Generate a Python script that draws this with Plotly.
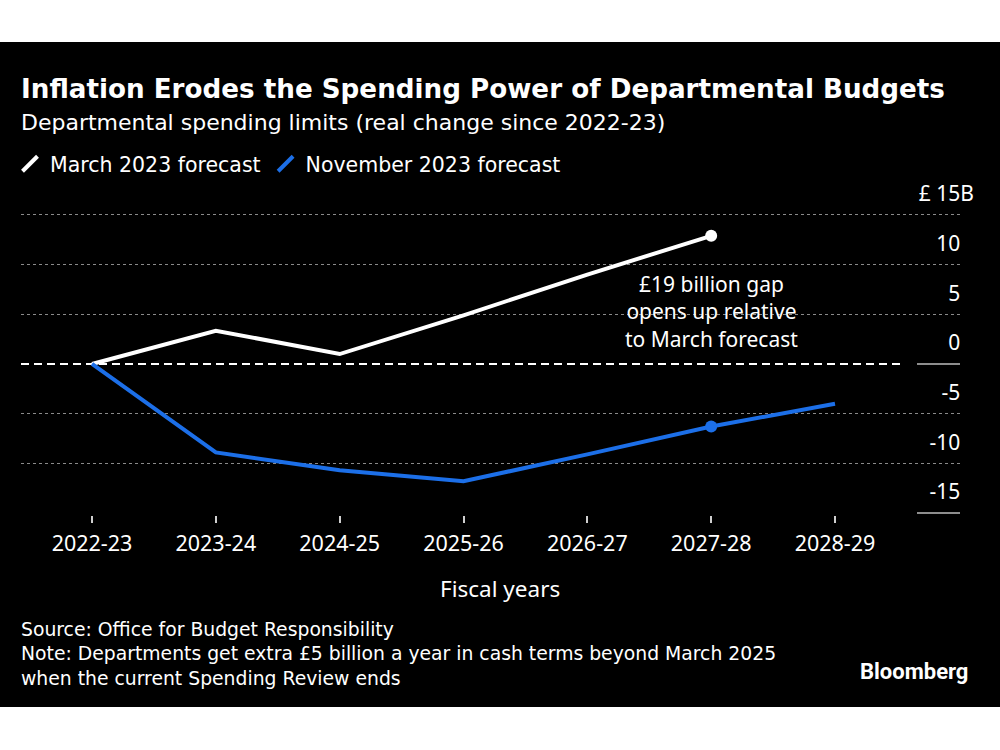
import plotly.graph_objects as go

# ---------------- data ----------------
years = ["2022-23", "2023-24", "2024-25", "2025-26", "2026-27", "2027-28", "2028-29"]
march_2023 = [0.0, 3.35, 1.0, 4.9, 9.0, 12.9, None]
november_2023 = [0.0, -8.9, -10.7, -11.8, -9.1, -6.3, -4.0]
highlight_year = "2027-28"

y_tick_vals = [15, 10, 5, 0, -5, -10, -15]
y_tick_text = ["£ 15B", "10", "5", "0", "-5", "-10", "-15"]
grid_vals = [15, 10, 5, -5, -10]

series_names = ["March 2023 forecast", "November 2023 forecast"]
title_text = "Inflation Erodes the Spending Power of Departmental Budgets"
subtitle_text = "Departmental spending limits (real change since 2022-23)"
gap_lines = ["£19 billion gap", "opens up relative", "to March forecast"]
source_lines = [
    "Source: Office for Budget Responsibility",
    "Note: Departments get extra £5 billion a year in cash terms beyond March 2025",
    "when the current Spending Review ends",
]
x_title = "Fiscal years"
brand = "Bloomberg"

# ---------------- styling / layout ----------------
W, H = 1000, 750
Y15_PX, YM15_PX = 215, 513              # pixel rows of +15 and -15
u = (YM15_PX - Y15_PX) / 30.0
y_range = [-15.2, 15.5]
T = Y15_PX - (y_range[1] - 15) * u
B = YM15_PX + (-15 - y_range[0]) * u
L, R = 21, 960
WHITE = "#ffffff"
BLUE = "#1c6fe8"
GRID = "#8a8a8a"
COND = "DejaVu Sans"
HUM = "Noto Sans"


def px_x(px):
    return (px - L) / (R - L)


def px_y(py):
    return (B - py) / (B - T)


# category index scale: 2022-23 at 92px, 2028-29 at 835px
unit = (835 - 92) / 6
x_range = [(L - 92) / unit, (R - 92) / unit]

hi = years.index(highlight_year)

fig = go.Figure()

fig.add_trace(go.Scatter(
    x=years, y=march_2023, mode="lines", line=dict(color=WHITE, width=4),
    showlegend=False, hoverinfo="skip", cliponaxis=False))
fig.add_trace(go.Scatter(
    x=years, y=november_2023, mode="lines", line=dict(color=BLUE, width=4),
    showlegend=False, hoverinfo="skip", cliponaxis=False))
fig.add_trace(go.Scatter(
    x=[years[hi]], y=[march_2023[hi]], mode="markers",
    marker=dict(color=WHITE, size=12), showlegend=False, hoverinfo="skip", cliponaxis=False))
fig.add_trace(go.Scatter(
    x=[years[hi]], y=[november_2023[hi]], mode="markers",
    marker=dict(color=BLUE, size=12), showlegend=False, hoverinfo="skip", cliponaxis=False))

# legend-only entries with slash icons
for name, col in zip(series_names, [WHITE, BLUE]):
    fig.add_trace(go.Scatter(
        x=[None], y=[None], mode="markers", name=name,
        marker=dict(symbol="line-ne", size=15, line=dict(width=4, color=col))))

# invisible trace to anchor the grid axis
fig.add_trace(go.Scatter(x=[years[0]], y=[0], yaxis="y2", mode="markers",
                         marker=dict(opacity=0), showlegend=False, hoverinfo="skip"))

transparent_b = "<span style='color:rgba(0,0,0,0)'>B</span>"
tick_text = [t if t.endswith("B") else t + transparent_b for t in y_tick_text]

fig.update_layout(
    width=W, height=H,
    margin=dict(l=L, r=W - R, t=T, b=H - B, autoexpand=False),
    paper_bgcolor="white", plot_bgcolor="black",
    font=dict(family=HUM, color=WHITE),
    xaxis=dict(
        type="category", range=x_range, showgrid=False, zeroline=False, showline=False,
        automargin=False,
        ticks="outside", ticklen=7, tickwidth=1.5, tickcolor="#cfcfcf",
        tickfont=dict(family=HUM, size=21.5, color=WHITE), ticklabelstandoff=2,
    ),
    yaxis=dict(
        range=y_range, side="right", showgrid=False, zeroline=False, showline=False,
        automargin=False,
        tickmode="array", tickvals=y_tick_vals, ticktext=tick_text, ticks="",
        ticklabelposition="inside", ticklabelshift=-21, ticklabelstandoff=-17,
        ticklabeloverflow="allow",
        tickfont=dict(family=HUM, size=21, color=WHITE),
    ),
    yaxis2=dict(
        range=y_range, overlaying="y", side="left", showticklabels=False,
        automargin=False,
        tickmode="array", tickvals=grid_vals, showgrid=True, gridcolor=GRID,
        gridwidth=1, griddash="dot", zeroline=False, showline=False, ticks="",
    ),
    showlegend=True,
    legend=dict(
        orientation="h", x=px_x(10), y=px_y(164), xanchor="left", yanchor="middle",
        bgcolor="rgba(0,0,0,0)", font=dict(family=COND, size=20.5, color=WHITE),
        itemclick=False, itemdoubleclick=False,
    ),
)

# black panel
fig.add_shape(type="rect", xref="paper", yref="paper", layer="below",
              x0=px_x(0), x1=px_x(W), y0=px_y(707), y1=px_y(42),
              fillcolor="black", line=dict(width=0))
# dashed zero reference line
fig.add_shape(type="line", xref="paper", yref="y", layer="between",
              x0=0, x1=px_x(902), y0=0, y1=0,
              line=dict(color=WHITE, width=2, dash="8px,5px"))
# short solid baseline marks at right
for yv in [0, -15]:
    fig.add_shape(type="line", xref="paper", yref="y", layer="above",
                  x0=px_x(917), x1=1, y0=yv, y1=yv,
                  line=dict(color="#bdbdbd", width=1.5))

# titles
fig.add_annotation(xref="paper", yref="paper", x=px_x(19), y=px_y(89.5),
                   xanchor="left", yanchor="middle", showarrow=False,
                   text="<b>" + title_text + "</b>",
                   font=dict(family=COND, size=26.2, color=WHITE))
fig.add_annotation(xref="paper", yref="paper", x=px_x(19), y=px_y(122.5),
                   xanchor="left", yanchor="middle", showarrow=False,
                   text=subtitle_text, font=dict(family=COND, size=22, color=WHITE))

# gap annotation
fig.add_annotation(x=years[hi], y=5.24, showarrow=False,
                   xanchor="center", yanchor="middle", text="<br>".join(gap_lines),
                   font=dict(family=HUM, size=21, color=WHITE))

# x-axis title
fig.add_annotation(xref="paper", yref="paper", x=px_x(500), y=px_y(588),
                   xanchor="center", yanchor="middle", showarrow=False,
                   text=x_title, font=dict(family=HUM, size=22.5, color=WHITE))

# source / note
fig.add_annotation(xref="paper", yref="paper", x=px_x(19), y=px_y(654),
                   xanchor="left", yanchor="middle", showarrow=False, align="left",
                   text="<br>".join(source_lines),
                   font=dict(family=COND, size=18.8, color=WHITE))

# brand
fig.add_annotation(xref="paper", yref="paper", x=px_x(970), y=px_y(671),
                   xanchor="right", yanchor="middle", showarrow=False,
                   text="<b>" + brand + "</b>",
                   font=dict(family="Roboto", size=22, color=WHITE))

fig.write_html("out.html", config={"displayModeBar": False},
               post_script="document.body.style.margin='0';")
